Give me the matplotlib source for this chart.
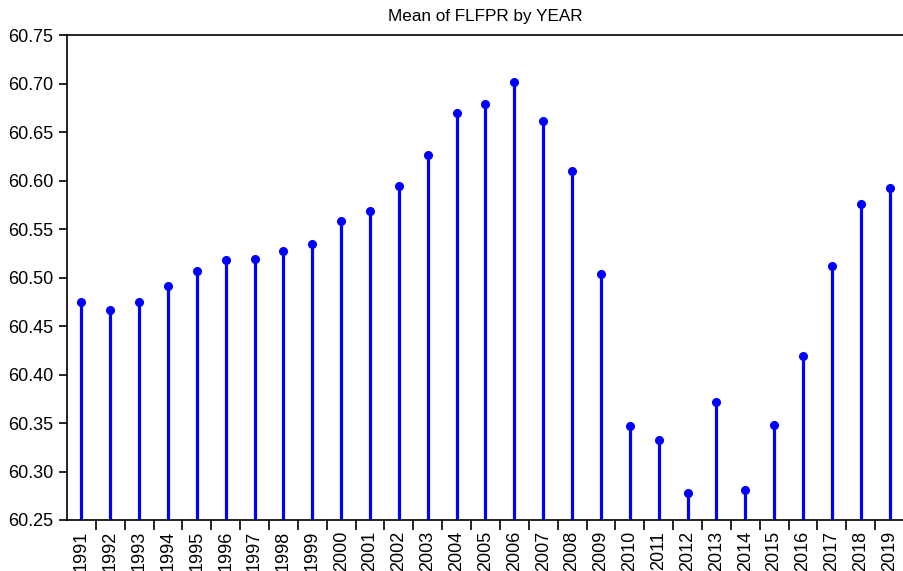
import matplotlib
matplotlib.use('Agg')
import matplotlib.pyplot as plt
import numpy as np

years = [str(y) for y in range(1991, 2020)]
flfpr = [60.475, 60.467, 60.475, 60.491, 60.507, 60.518, 60.519, 60.527,
         60.535, 60.558, 60.569, 60.594, 60.626, 60.670, 60.679, 60.702,
         60.661, 60.610, 60.504, 60.347, 60.332, 60.278, 60.372, 60.281,
         60.348, 60.419, 60.512, 60.576, 60.592]


def plot_flfpr():
    plt.rcParams['font.family'] = ['Liberation Sans', 'DejaVu Sans']
    plt.rcParams['font.size'] = 10

    fig = plt.figure(figsize=(9.04, 5.71), dpi=100)
    ax = fig.add_axes([67 / 904, 51 / 571, 1 - 67 / 904, 485 / 571])

    x = np.arange(len(years))
    ymin = 60.25
    ax.vlines(x, ymin, flfpr, color='#0000ff', linewidth=2.3)
    ax.plot(x, flfpr, 'o', color='#0000ff', markersize=5.5)

    ax.set_xlim(-0.5, len(years) - 0.5)
    ax.set_ylim(60.25, 60.75)
    ax.set_yticks(np.arange(60.25, 60.751, 0.05))
    ax.set_yticklabels(['%.2f' % v for v in np.arange(60.25, 60.751, 0.05)], fontsize=13)

    # category labels centred, ticks on the boundaries
    ax.set_xticks(x)
    ax.set_xticklabels(years, rotation=90, fontsize=13)
    ax.tick_params(axis='x', which='major', length=0, pad=8)
    ax.set_xticks(np.arange(0.5, len(years) - 0.5), minor=True)
    ax.tick_params(axis='x', which='minor', length=7, width=1.2, direction='out')
    ax.tick_params(axis='y', length=6, width=1.2, direction='out', pad=4)

    ax.spines['right'].set_visible(False)
    for s in ['left', 'top', 'bottom']:
        ax.spines[s].set_linewidth(1.2)

    ax.set_title('Mean of FLFPR by YEAR', fontsize=12.3, pad=10)
    fig.savefig('out.png', dpi=100)


if __name__ == '__main__':
    plot_flfpr()
